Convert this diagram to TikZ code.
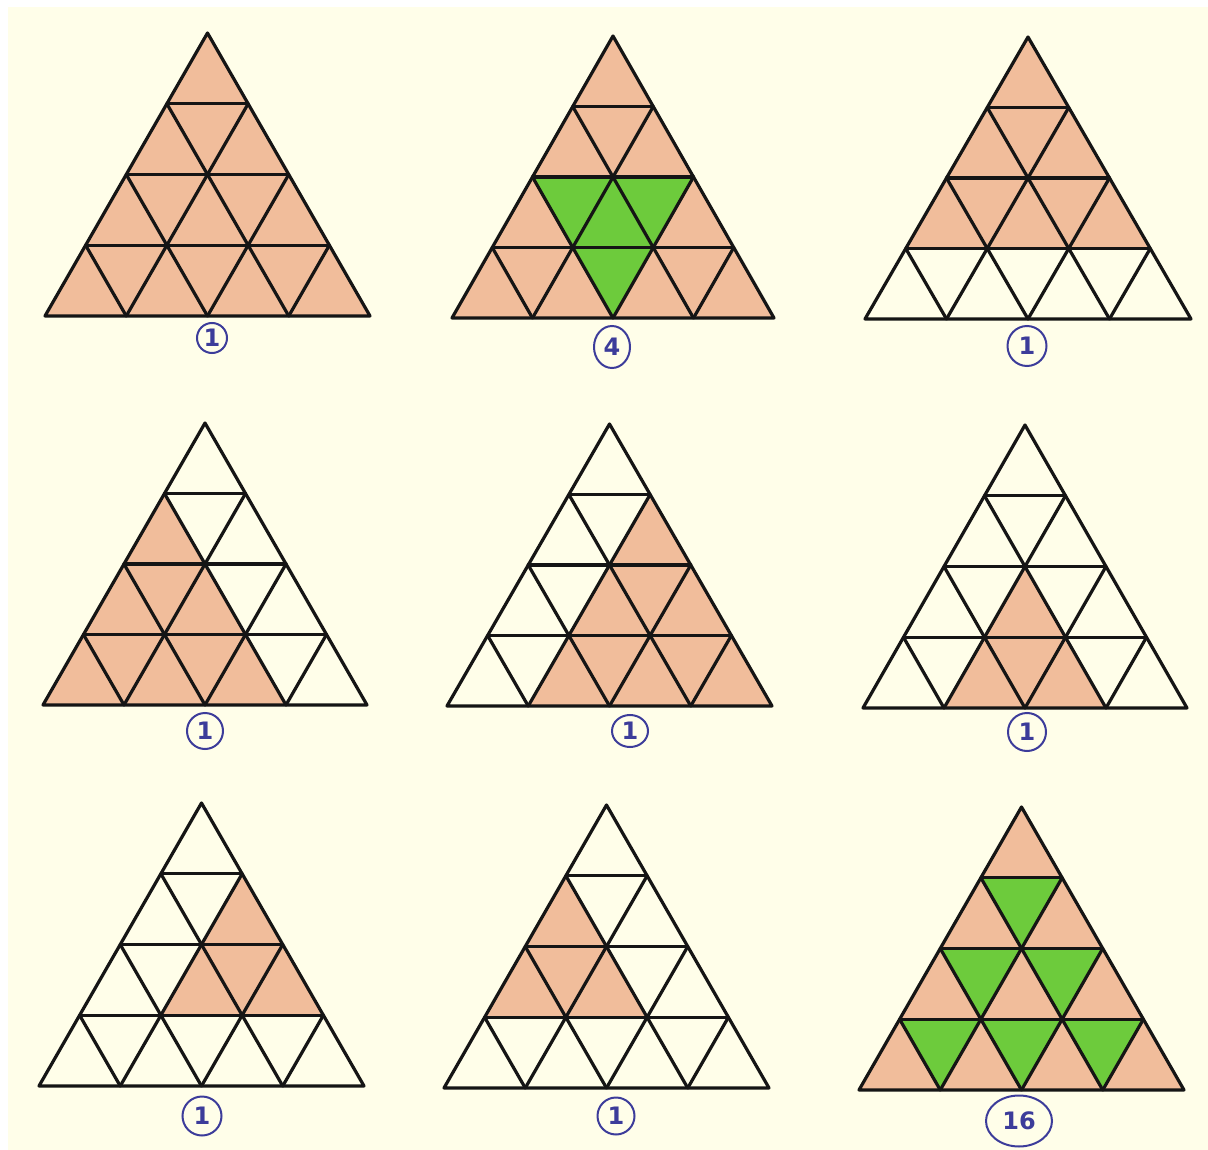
\documentclass[tikz,border=0pt]{standalone}
\usepackage{fontspec}
\newfontfamily\handf{DejaVu Sans}
\usetikzlibrary{shapes.geometric}
\definecolor{paper}{HTML}{FFFEE9}
\definecolor{salm}{HTML}{F1BD9B}
\definecolor{grn}{HTML}{6DCB3C}
\definecolor{ink}{HTML}{3C3C9A}
\definecolor{gline}{HTML}{151515}
\tikzset{
  gl/.style={draw=gline,line width=3.2pt,line join=round,line cap=round},
  cellS/.style={fill=salm},
  cellG/.style={fill=grn},
  tag/.style={ellipse,draw=ink,line width=2pt,text=ink,inner sep=0pt,font=\handf\bfseries\fontsize{24}{24}\selectfont}
}
% #1 name, #2 apex x, #3 apex y, #4 width, #5 base y
\newcommand\makegrid[5]{%
  \foreach \j in {0,...,4}{%
    \foreach \i in {0,...,\j}{%
      \coordinate (#1-\j-\i) at ({#2+(\i-\j/2)*#4/4},{#3+\j*(#5-#3)/4});
    }%
  }%
}
\newcommand\gridlines[1]{%
  \draw[gl] (#1-0-0) -- (#1-4-0) -- (#1-4-4) -- cycle;
  \draw[gl] (#1-1-0) -- (#1-1-1) (#1-2-0) -- (#1-2-2) (#1-3-0) -- (#1-3-3);
  \draw[gl] (#1-1-1) -- (#1-4-1) (#1-2-2) -- (#1-4-2) (#1-3-3) -- (#1-4-3);
  \draw[gl] (#1-1-0) -- (#1-4-3) (#1-2-0) -- (#1-4-2) (#1-3-0) -- (#1-4-1);
}
\begin{document}
\begin{tikzpicture}[x=1pt,y=-1pt]
\useasboundingbox (0,0) rectangle (1208,1150);
\fill[white] (0,0) rectangle (1208,1150);
\fill[paper] (8,7) rectangle (1208,1150);

\makegrid{A}{207.5}{33}{325}{316}
\makegrid{B}{613}{36}{322}{318}
\makegrid{C}{1028}{37}{326}{319}
\makegrid{D}{205}{423}{324}{705}
\makegrid{E}{609.5}{424}{325}{706}
\makegrid{F}{1025}{425}{324}{708}
\makegrid{G}{201.5}{803}{325}{1086}
\makegrid{H}{606.5}{805}{325}{1088}
\makegrid{K}{1021.5}{807}{325}{1090}

% fills
\fill[cellS] (A-0-0) -- (A-4-0) -- (A-4-4) -- cycle;

\fill[cellS] (B-0-0) -- (B-4-0) -- (B-4-4) -- cycle;
\fill[cellG] (B-2-0) -- (B-2-2) -- (B-4-2) -- cycle;

\fill[cellS] (C-0-0) -- (C-3-0) -- (C-3-3) -- cycle;

\fill[cellS] (D-1-0) -- (D-4-0) -- (D-4-3) -- cycle;

\fill[cellS] (E-1-1) -- (E-4-1) -- (E-4-4) -- cycle;

\fill[cellS] (F-2-1) -- (F-4-1) -- (F-4-3) -- cycle;

\fill[cellS] (G-1-1) -- (G-3-1) -- (G-3-3) -- cycle;

\fill[cellS] (H-1-0) -- (H-3-0) -- (H-3-2) -- cycle;

\fill[cellS] (K-0-0) -- (K-4-0) -- (K-4-4) -- cycle;
\fill[cellG] (K-1-0) -- (K-1-1) -- (K-2-1) -- cycle;
\fill[cellG] (K-2-0) -- (K-2-1) -- (K-3-1) -- cycle;
\fill[cellG] (K-2-1) -- (K-2-2) -- (K-3-2) -- cycle;
\fill[cellG] (K-3-0) -- (K-3-1) -- (K-4-1) -- cycle;
\fill[cellG] (K-3-1) -- (K-3-2) -- (K-4-2) -- cycle;
\fill[cellG] (K-3-2) -- (K-3-3) -- (K-4-3) -- cycle;

% grids
\gridlines{A}\gridlines{B}\gridlines{C}
\gridlines{D}\gridlines{E}\gridlines{F}
\gridlines{G}\gridlines{H}\gridlines{K}

% labels
\node[tag,minimum width=30pt,minimum height=30pt] (lA) at (212,338) {1};
\node[tag,minimum width=36pt,minimum height=42pt] (lB) at (612,347) {4};
\node[tag,minimum width=39pt,minimum height=40pt] (lC) at (1027,346) {1};
\node[tag,minimum width=36pt,minimum height=36pt] (lD) at (205,731) {1};
\node[tag,minimum width=36pt,minimum height=32pt] (lE) at (630,731) {1};
\node[tag,minimum width=38pt,minimum height=38pt] (lF) at (1027,732) {1};
\node[tag,minimum width=39pt,minimum height=39pt] (lG) at (202,1116) {1};
\node[tag,minimum width=37pt,minimum height=37pt] (lH) at (616,1116) {1};
\node[tag,minimum width=66pt,minimum height=51pt] (lK) at (1019,1121) {16};
\end{tikzpicture}
\end{document}
